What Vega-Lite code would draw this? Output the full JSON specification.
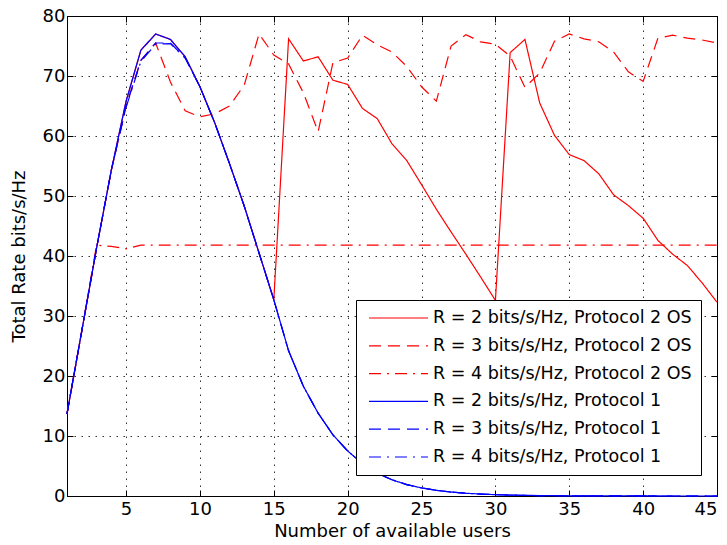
{
 "$schema": "https://vega.github.io/schema/vega-lite/v6.json",
 "width": 650, "height": 480,
 "autosize": {"type": "none"},
 "padding": {"left": 67, "top": 16, "right": 10, "bottom": 49},
 "background": "white",
 "config": {
  "font": "DejaVu Sans",
  "view": {"stroke": "#000", "strokeWidth": 1},
  "axis": {"labelFont": "DejaVu Sans", "labelFontSize": 18, "labelColor": "#000", "titleFont": "DejaVu Sans", "titleFontSize": 18, "titleFontWeight": "normal", "titleColor": "#000", "domainColor": "#000", "tickColor": "#000", "tickSize": -6, "tickWidth": 1, "gridColor": "#000", "gridDash": [1.5, 5.5], "gridOpacity": 0.8, "gridWidth": 1},
  "legend": {"orient": "none", "legendX": 289, "legendY": 284, "symbolType": "stroke", "symbolSize": 3481, "symbolStrokeWidth": 1.2, "clipHeight": 18, "rowPadding": 9.8, "padding": 9, "symbolOffset": 3, "labelOffset": 4, "labelFont": "DejaVu Sans", "labelFontSize": 17.5, "labelColor": "#000", "labelLimit": 400, "fillColor": "#ffffff", "strokeColor": "#000000"}
 },
 "data": {"values": [
  {"s":"R = 2 bits/s/Hz, Protocol 2 OS","n":1,"v":13.7},{"s":"R = 2 bits/s/Hz, Protocol 2 OS","n":2,"v":27.5},{"s":"R = 2 bits/s/Hz, Protocol 2 OS","n":3,"v":41.3},{"s":"R = 2 bits/s/Hz, Protocol 2 OS","n":4,"v":54.3},{"s":"R = 2 bits/s/Hz, Protocol 2 OS","n":5,"v":65.8},{"s":"R = 2 bits/s/Hz, Protocol 2 OS","n":6,"v":74.3},{"s":"R = 2 bits/s/Hz, Protocol 2 OS","n":7,"v":77.0},{"s":"R = 2 bits/s/Hz, Protocol 2 OS","n":8,"v":76.1},{"s":"R = 2 bits/s/Hz, Protocol 2 OS","n":9,"v":73.2},{"s":"R = 2 bits/s/Hz, Protocol 2 OS","n":10,"v":68.2},{"s":"R = 2 bits/s/Hz, Protocol 2 OS","n":11,"v":62.2},{"s":"R = 2 bits/s/Hz, Protocol 2 OS","n":12,"v":55.4},{"s":"R = 2 bits/s/Hz, Protocol 2 OS","n":13,"v":48.3},{"s":"R = 2 bits/s/Hz, Protocol 2 OS","n":14,"v":40.5},{"s":"R = 2 bits/s/Hz, Protocol 2 OS","n":15,"v":32.7},{"s":"R = 2 bits/s/Hz, Protocol 2 OS","n":16,"v":76.2},{"s":"R = 2 bits/s/Hz, Protocol 2 OS","n":17,"v":72.5},{"s":"R = 2 bits/s/Hz, Protocol 2 OS","n":18,"v":73.2},{"s":"R = 2 bits/s/Hz, Protocol 2 OS","n":19,"v":69.3},{"s":"R = 2 bits/s/Hz, Protocol 2 OS","n":20,"v":68.6},{"s":"R = 2 bits/s/Hz, Protocol 2 OS","n":21,"v":64.6},{"s":"R = 2 bits/s/Hz, Protocol 2 OS","n":22,"v":62.9},{"s":"R = 2 bits/s/Hz, Protocol 2 OS","n":23,"v":58.7},{"s":"R = 2 bits/s/Hz, Protocol 2 OS","n":24,"v":55.9},{"s":"R = 2 bits/s/Hz, Protocol 2 OS","n":25,"v":51.9},{"s":"R = 2 bits/s/Hz, Protocol 2 OS","n":26,"v":47.8},{"s":"R = 2 bits/s/Hz, Protocol 2 OS","n":27,"v":44.0},{"s":"R = 2 bits/s/Hz, Protocol 2 OS","n":28,"v":40.3},{"s":"R = 2 bits/s/Hz, Protocol 2 OS","n":29,"v":36.5},{"s":"R = 2 bits/s/Hz, Protocol 2 OS","n":30,"v":32.6},{"s":"R = 2 bits/s/Hz, Protocol 2 OS","n":31,"v":73.9},{"s":"R = 2 bits/s/Hz, Protocol 2 OS","n":32,"v":76.1},{"s":"R = 2 bits/s/Hz, Protocol 2 OS","n":33,"v":65.5},{"s":"R = 2 bits/s/Hz, Protocol 2 OS","n":34,"v":60.1},{"s":"R = 2 bits/s/Hz, Protocol 2 OS","n":35,"v":56.9},{"s":"R = 2 bits/s/Hz, Protocol 2 OS","n":36,"v":55.9},{"s":"R = 2 bits/s/Hz, Protocol 2 OS","n":37,"v":53.7},{"s":"R = 2 bits/s/Hz, Protocol 2 OS","n":38,"v":50.2},{"s":"R = 2 bits/s/Hz, Protocol 2 OS","n":39,"v":48.4},{"s":"R = 2 bits/s/Hz, Protocol 2 OS","n":40,"v":46.3},{"s":"R = 2 bits/s/Hz, Protocol 2 OS","n":41,"v":42.6},{"s":"R = 2 bits/s/Hz, Protocol 2 OS","n":42,"v":40.3},{"s":"R = 2 bits/s/Hz, Protocol 2 OS","n":43,"v":38.4},{"s":"R = 2 bits/s/Hz, Protocol 2 OS","n":44,"v":35.5},{"s":"R = 2 bits/s/Hz, Protocol 2 OS","n":45,"v":32.3},
  {"s":"R = 3 bits/s/Hz, Protocol 2 OS","n":1,"v":13.7},{"s":"R = 3 bits/s/Hz, Protocol 2 OS","n":2,"v":27.5},{"s":"R = 3 bits/s/Hz, Protocol 2 OS","n":3,"v":41.3},{"s":"R = 3 bits/s/Hz, Protocol 2 OS","n":4,"v":54.3},{"s":"R = 3 bits/s/Hz, Protocol 2 OS","n":5,"v":65.0},{"s":"R = 3 bits/s/Hz, Protocol 2 OS","n":6,"v":72.6},{"s":"R = 3 bits/s/Hz, Protocol 2 OS","n":7,"v":75.5},{"s":"R = 3 bits/s/Hz, Protocol 2 OS","n":8,"v":69.0},{"s":"R = 3 bits/s/Hz, Protocol 2 OS","n":9,"v":64.2},{"s":"R = 3 bits/s/Hz, Protocol 2 OS","n":10,"v":63.2},{"s":"R = 3 bits/s/Hz, Protocol 2 OS","n":11,"v":63.7},{"s":"R = 3 bits/s/Hz, Protocol 2 OS","n":12,"v":65.0},{"s":"R = 3 bits/s/Hz, Protocol 2 OS","n":13,"v":68.5},{"s":"R = 3 bits/s/Hz, Protocol 2 OS","n":14,"v":77.0},{"s":"R = 3 bits/s/Hz, Protocol 2 OS","n":15,"v":73.5},{"s":"R = 3 bits/s/Hz, Protocol 2 OS","n":16,"v":72.0},{"s":"R = 3 bits/s/Hz, Protocol 2 OS","n":17,"v":67.2},{"s":"R = 3 bits/s/Hz, Protocol 2 OS","n":18,"v":60.7},{"s":"R = 3 bits/s/Hz, Protocol 2 OS","n":19,"v":72.2},{"s":"R = 3 bits/s/Hz, Protocol 2 OS","n":20,"v":73.0},{"s":"R = 3 bits/s/Hz, Protocol 2 OS","n":21,"v":76.8},{"s":"R = 3 bits/s/Hz, Protocol 2 OS","n":22,"v":75.2},{"s":"R = 3 bits/s/Hz, Protocol 2 OS","n":23,"v":74.0},{"s":"R = 3 bits/s/Hz, Protocol 2 OS","n":24,"v":71.6},{"s":"R = 3 bits/s/Hz, Protocol 2 OS","n":25,"v":68.2},{"s":"R = 3 bits/s/Hz, Protocol 2 OS","n":26,"v":65.8},{"s":"R = 3 bits/s/Hz, Protocol 2 OS","n":27,"v":75.0},{"s":"R = 3 bits/s/Hz, Protocol 2 OS","n":28,"v":76.9},{"s":"R = 3 bits/s/Hz, Protocol 2 OS","n":29,"v":75.7},{"s":"R = 3 bits/s/Hz, Protocol 2 OS","n":30,"v":75.3},{"s":"R = 3 bits/s/Hz, Protocol 2 OS","n":31,"v":73.3},{"s":"R = 3 bits/s/Hz, Protocol 2 OS","n":32,"v":68.1},{"s":"R = 3 bits/s/Hz, Protocol 2 OS","n":33,"v":70.5},{"s":"R = 3 bits/s/Hz, Protocol 2 OS","n":34,"v":75.8},{"s":"R = 3 bits/s/Hz, Protocol 2 OS","n":35,"v":77.0},{"s":"R = 3 bits/s/Hz, Protocol 2 OS","n":36,"v":76.2},{"s":"R = 3 bits/s/Hz, Protocol 2 OS","n":37,"v":75.7},{"s":"R = 3 bits/s/Hz, Protocol 2 OS","n":38,"v":74.0},{"s":"R = 3 bits/s/Hz, Protocol 2 OS","n":39,"v":70.7},{"s":"R = 3 bits/s/Hz, Protocol 2 OS","n":40,"v":69.1},{"s":"R = 3 bits/s/Hz, Protocol 2 OS","n":41,"v":76.3},{"s":"R = 3 bits/s/Hz, Protocol 2 OS","n":42,"v":76.8},{"s":"R = 3 bits/s/Hz, Protocol 2 OS","n":43,"v":76.3},{"s":"R = 3 bits/s/Hz, Protocol 2 OS","n":44,"v":76.0},{"s":"R = 3 bits/s/Hz, Protocol 2 OS","n":45,"v":75.5},
  {"s":"R = 4 bits/s/Hz, Protocol 2 OS","n":1,"v":13.7},{"s":"R = 4 bits/s/Hz, Protocol 2 OS","n":2,"v":27.5},{"s":"R = 4 bits/s/Hz, Protocol 2 OS","n":3,"v":41.8},{"s":"R = 4 bits/s/Hz, Protocol 2 OS","n":4,"v":41.6},{"s":"R = 4 bits/s/Hz, Protocol 2 OS","n":5,"v":41.2},{"s":"R = 4 bits/s/Hz, Protocol 2 OS","n":6,"v":41.8},{"s":"R = 4 bits/s/Hz, Protocol 2 OS","n":7,"v":41.8},{"s":"R = 4 bits/s/Hz, Protocol 2 OS","n":8,"v":41.8},{"s":"R = 4 bits/s/Hz, Protocol 2 OS","n":9,"v":41.8},{"s":"R = 4 bits/s/Hz, Protocol 2 OS","n":10,"v":41.8},{"s":"R = 4 bits/s/Hz, Protocol 2 OS","n":11,"v":41.8},{"s":"R = 4 bits/s/Hz, Protocol 2 OS","n":12,"v":41.8},{"s":"R = 4 bits/s/Hz, Protocol 2 OS","n":13,"v":41.8},{"s":"R = 4 bits/s/Hz, Protocol 2 OS","n":14,"v":41.8},{"s":"R = 4 bits/s/Hz, Protocol 2 OS","n":15,"v":41.8},{"s":"R = 4 bits/s/Hz, Protocol 2 OS","n":16,"v":41.8},{"s":"R = 4 bits/s/Hz, Protocol 2 OS","n":17,"v":41.8},{"s":"R = 4 bits/s/Hz, Protocol 2 OS","n":18,"v":41.8},{"s":"R = 4 bits/s/Hz, Protocol 2 OS","n":19,"v":41.8},{"s":"R = 4 bits/s/Hz, Protocol 2 OS","n":20,"v":41.8},{"s":"R = 4 bits/s/Hz, Protocol 2 OS","n":21,"v":41.8},{"s":"R = 4 bits/s/Hz, Protocol 2 OS","n":22,"v":41.8},{"s":"R = 4 bits/s/Hz, Protocol 2 OS","n":23,"v":41.8},{"s":"R = 4 bits/s/Hz, Protocol 2 OS","n":24,"v":41.8},{"s":"R = 4 bits/s/Hz, Protocol 2 OS","n":25,"v":41.8},{"s":"R = 4 bits/s/Hz, Protocol 2 OS","n":26,"v":41.8},{"s":"R = 4 bits/s/Hz, Protocol 2 OS","n":27,"v":41.8},{"s":"R = 4 bits/s/Hz, Protocol 2 OS","n":28,"v":41.8},{"s":"R = 4 bits/s/Hz, Protocol 2 OS","n":29,"v":41.8},{"s":"R = 4 bits/s/Hz, Protocol 2 OS","n":30,"v":41.8},{"s":"R = 4 bits/s/Hz, Protocol 2 OS","n":31,"v":41.8},{"s":"R = 4 bits/s/Hz, Protocol 2 OS","n":32,"v":41.8},{"s":"R = 4 bits/s/Hz, Protocol 2 OS","n":33,"v":41.8},{"s":"R = 4 bits/s/Hz, Protocol 2 OS","n":34,"v":41.8},{"s":"R = 4 bits/s/Hz, Protocol 2 OS","n":35,"v":41.8},{"s":"R = 4 bits/s/Hz, Protocol 2 OS","n":36,"v":41.8},{"s":"R = 4 bits/s/Hz, Protocol 2 OS","n":37,"v":41.8},{"s":"R = 4 bits/s/Hz, Protocol 2 OS","n":38,"v":41.8},{"s":"R = 4 bits/s/Hz, Protocol 2 OS","n":39,"v":41.8},{"s":"R = 4 bits/s/Hz, Protocol 2 OS","n":40,"v":41.8},{"s":"R = 4 bits/s/Hz, Protocol 2 OS","n":41,"v":41.8},{"s":"R = 4 bits/s/Hz, Protocol 2 OS","n":42,"v":41.8},{"s":"R = 4 bits/s/Hz, Protocol 2 OS","n":43,"v":41.8},{"s":"R = 4 bits/s/Hz, Protocol 2 OS","n":44,"v":41.8},{"s":"R = 4 bits/s/Hz, Protocol 2 OS","n":45,"v":41.8},
  {"s":"R = 2 bits/s/Hz, Protocol 1","n":1,"v":13.7},{"s":"R = 2 bits/s/Hz, Protocol 1","n":2,"v":27.5},{"s":"R = 2 bits/s/Hz, Protocol 1","n":3,"v":41.3},{"s":"R = 2 bits/s/Hz, Protocol 1","n":4,"v":54.3},{"s":"R = 2 bits/s/Hz, Protocol 1","n":5,"v":65.8},{"s":"R = 2 bits/s/Hz, Protocol 1","n":6,"v":74.3},{"s":"R = 2 bits/s/Hz, Protocol 1","n":7,"v":77.0},{"s":"R = 2 bits/s/Hz, Protocol 1","n":8,"v":76.1},{"s":"R = 2 bits/s/Hz, Protocol 1","n":9,"v":73.2},{"s":"R = 2 bits/s/Hz, Protocol 1","n":10,"v":68.2},{"s":"R = 2 bits/s/Hz, Protocol 1","n":11,"v":62.2},{"s":"R = 2 bits/s/Hz, Protocol 1","n":12,"v":55.4},{"s":"R = 2 bits/s/Hz, Protocol 1","n":13,"v":48.3},{"s":"R = 2 bits/s/Hz, Protocol 1","n":14,"v":40.5},{"s":"R = 2 bits/s/Hz, Protocol 1","n":15,"v":32.7},{"s":"R = 2 bits/s/Hz, Protocol 1","n":16,"v":24.2},{"s":"R = 2 bits/s/Hz, Protocol 1","n":17,"v":18.3},{"s":"R = 2 bits/s/Hz, Protocol 1","n":18,"v":13.8},{"s":"R = 2 bits/s/Hz, Protocol 1","n":19,"v":10.2},{"s":"R = 2 bits/s/Hz, Protocol 1","n":20,"v":7.5},{"s":"R = 2 bits/s/Hz, Protocol 1","n":21,"v":5.4},{"s":"R = 2 bits/s/Hz, Protocol 1","n":22,"v":3.8},{"s":"R = 2 bits/s/Hz, Protocol 1","n":23,"v":2.7},{"s":"R = 2 bits/s/Hz, Protocol 1","n":24,"v":1.9},{"s":"R = 2 bits/s/Hz, Protocol 1","n":25,"v":1.35},{"s":"R = 2 bits/s/Hz, Protocol 1","n":26,"v":0.95},{"s":"R = 2 bits/s/Hz, Protocol 1","n":27,"v":0.66},{"s":"R = 2 bits/s/Hz, Protocol 1","n":28,"v":0.46},{"s":"R = 2 bits/s/Hz, Protocol 1","n":29,"v":0.32},{"s":"R = 2 bits/s/Hz, Protocol 1","n":30,"v":0.22},{"s":"R = 2 bits/s/Hz, Protocol 1","n":31,"v":0.15},{"s":"R = 2 bits/s/Hz, Protocol 1","n":32,"v":0.1},{"s":"R = 2 bits/s/Hz, Protocol 1","n":33,"v":0.07},{"s":"R = 2 bits/s/Hz, Protocol 1","n":34,"v":0.05},{"s":"R = 2 bits/s/Hz, Protocol 1","n":35,"v":0.035},{"s":"R = 2 bits/s/Hz, Protocol 1","n":36,"v":0.024},{"s":"R = 2 bits/s/Hz, Protocol 1","n":37,"v":0.017},{"s":"R = 2 bits/s/Hz, Protocol 1","n":38,"v":0.012},{"s":"R = 2 bits/s/Hz, Protocol 1","n":39,"v":0.008},{"s":"R = 2 bits/s/Hz, Protocol 1","n":40,"v":0.006},{"s":"R = 2 bits/s/Hz, Protocol 1","n":41,"v":0.004},{"s":"R = 2 bits/s/Hz, Protocol 1","n":42,"v":0.003},{"s":"R = 2 bits/s/Hz, Protocol 1","n":43,"v":0.002},{"s":"R = 2 bits/s/Hz, Protocol 1","n":44,"v":0.0014},{"s":"R = 2 bits/s/Hz, Protocol 1","n":45,"v":0.001},
  {"s":"R = 3 bits/s/Hz, Protocol 1","n":1,"v":13.7},{"s":"R = 3 bits/s/Hz, Protocol 1","n":2,"v":27.5},{"s":"R = 3 bits/s/Hz, Protocol 1","n":3,"v":41.3},{"s":"R = 3 bits/s/Hz, Protocol 1","n":4,"v":54.3},{"s":"R = 3 bits/s/Hz, Protocol 1","n":5,"v":65.0},{"s":"R = 3 bits/s/Hz, Protocol 1","n":6,"v":72.6},{"s":"R = 3 bits/s/Hz, Protocol 1","n":7,"v":75.5},{"s":"R = 3 bits/s/Hz, Protocol 1","n":8,"v":75.5},{"s":"R = 3 bits/s/Hz, Protocol 1","n":9,"v":73.0},{"s":"R = 3 bits/s/Hz, Protocol 1","n":10,"v":68.2},{"s":"R = 3 bits/s/Hz, Protocol 1","n":11,"v":62.2},{"s":"R = 3 bits/s/Hz, Protocol 1","n":12,"v":55.4},{"s":"R = 3 bits/s/Hz, Protocol 1","n":13,"v":48.3},{"s":"R = 3 bits/s/Hz, Protocol 1","n":14,"v":40.5},{"s":"R = 3 bits/s/Hz, Protocol 1","n":15,"v":32.7},{"s":"R = 3 bits/s/Hz, Protocol 1","n":16,"v":24.2},{"s":"R = 3 bits/s/Hz, Protocol 1","n":17,"v":18.3},{"s":"R = 3 bits/s/Hz, Protocol 1","n":18,"v":13.8},{"s":"R = 3 bits/s/Hz, Protocol 1","n":19,"v":10.2},{"s":"R = 3 bits/s/Hz, Protocol 1","n":20,"v":7.5},{"s":"R = 3 bits/s/Hz, Protocol 1","n":21,"v":5.4},{"s":"R = 3 bits/s/Hz, Protocol 1","n":22,"v":3.8},{"s":"R = 3 bits/s/Hz, Protocol 1","n":23,"v":2.7},{"s":"R = 3 bits/s/Hz, Protocol 1","n":24,"v":1.9},{"s":"R = 3 bits/s/Hz, Protocol 1","n":25,"v":1.35},{"s":"R = 3 bits/s/Hz, Protocol 1","n":26,"v":0.95},{"s":"R = 3 bits/s/Hz, Protocol 1","n":27,"v":0.66},{"s":"R = 3 bits/s/Hz, Protocol 1","n":28,"v":0.46},{"s":"R = 3 bits/s/Hz, Protocol 1","n":29,"v":0.32},{"s":"R = 3 bits/s/Hz, Protocol 1","n":30,"v":0.22},{"s":"R = 3 bits/s/Hz, Protocol 1","n":31,"v":0.15},{"s":"R = 3 bits/s/Hz, Protocol 1","n":32,"v":0.1},{"s":"R = 3 bits/s/Hz, Protocol 1","n":33,"v":0.07},{"s":"R = 3 bits/s/Hz, Protocol 1","n":34,"v":0.05},{"s":"R = 3 bits/s/Hz, Protocol 1","n":35,"v":0.035},{"s":"R = 3 bits/s/Hz, Protocol 1","n":36,"v":0.024},{"s":"R = 3 bits/s/Hz, Protocol 1","n":37,"v":0.017},{"s":"R = 3 bits/s/Hz, Protocol 1","n":38,"v":0.012},{"s":"R = 3 bits/s/Hz, Protocol 1","n":39,"v":0.008},{"s":"R = 3 bits/s/Hz, Protocol 1","n":40,"v":0.006},{"s":"R = 3 bits/s/Hz, Protocol 1","n":41,"v":0.004},{"s":"R = 3 bits/s/Hz, Protocol 1","n":42,"v":0.003},{"s":"R = 3 bits/s/Hz, Protocol 1","n":43,"v":0.002},{"s":"R = 3 bits/s/Hz, Protocol 1","n":44,"v":0.0014},{"s":"R = 3 bits/s/Hz, Protocol 1","n":45,"v":0.001},
  {"s":"R = 4 bits/s/Hz, Protocol 1","n":1,"v":13.7},{"s":"R = 4 bits/s/Hz, Protocol 1","n":2,"v":27.5},{"s":"R = 4 bits/s/Hz, Protocol 1","n":3,"v":41.3},{"s":"R = 4 bits/s/Hz, Protocol 1","n":4,"v":54.3},{"s":"R = 4 bits/s/Hz, Protocol 1","n":5,"v":64.8},{"s":"R = 4 bits/s/Hz, Protocol 1","n":6,"v":72.4},{"s":"R = 4 bits/s/Hz, Protocol 1","n":7,"v":75.3},{"s":"R = 4 bits/s/Hz, Protocol 1","n":8,"v":75.4},{"s":"R = 4 bits/s/Hz, Protocol 1","n":9,"v":73.0},{"s":"R = 4 bits/s/Hz, Protocol 1","n":10,"v":68.2},{"s":"R = 4 bits/s/Hz, Protocol 1","n":11,"v":62.2},{"s":"R = 4 bits/s/Hz, Protocol 1","n":12,"v":55.4},{"s":"R = 4 bits/s/Hz, Protocol 1","n":13,"v":48.3},{"s":"R = 4 bits/s/Hz, Protocol 1","n":14,"v":40.5},{"s":"R = 4 bits/s/Hz, Protocol 1","n":15,"v":32.7},{"s":"R = 4 bits/s/Hz, Protocol 1","n":16,"v":24.2},{"s":"R = 4 bits/s/Hz, Protocol 1","n":17,"v":18.3},{"s":"R = 4 bits/s/Hz, Protocol 1","n":18,"v":13.8},{"s":"R = 4 bits/s/Hz, Protocol 1","n":19,"v":10.2},{"s":"R = 4 bits/s/Hz, Protocol 1","n":20,"v":7.5},{"s":"R = 4 bits/s/Hz, Protocol 1","n":21,"v":5.4},{"s":"R = 4 bits/s/Hz, Protocol 1","n":22,"v":3.8},{"s":"R = 4 bits/s/Hz, Protocol 1","n":23,"v":2.7},{"s":"R = 4 bits/s/Hz, Protocol 1","n":24,"v":1.9},{"s":"R = 4 bits/s/Hz, Protocol 1","n":25,"v":1.35},{"s":"R = 4 bits/s/Hz, Protocol 1","n":26,"v":0.95},{"s":"R = 4 bits/s/Hz, Protocol 1","n":27,"v":0.66},{"s":"R = 4 bits/s/Hz, Protocol 1","n":28,"v":0.46},{"s":"R = 4 bits/s/Hz, Protocol 1","n":29,"v":0.32},{"s":"R = 4 bits/s/Hz, Protocol 1","n":30,"v":0.22},{"s":"R = 4 bits/s/Hz, Protocol 1","n":31,"v":0.15},{"s":"R = 4 bits/s/Hz, Protocol 1","n":32,"v":0.1},{"s":"R = 4 bits/s/Hz, Protocol 1","n":33,"v":0.07},{"s":"R = 4 bits/s/Hz, Protocol 1","n":34,"v":0.05},{"s":"R = 4 bits/s/Hz, Protocol 1","n":35,"v":0.035},{"s":"R = 4 bits/s/Hz, Protocol 1","n":36,"v":0.024},{"s":"R = 4 bits/s/Hz, Protocol 1","n":37,"v":0.017},{"s":"R = 4 bits/s/Hz, Protocol 1","n":38,"v":0.012},{"s":"R = 4 bits/s/Hz, Protocol 1","n":39,"v":0.008},{"s":"R = 4 bits/s/Hz, Protocol 1","n":40,"v":0.006},{"s":"R = 4 bits/s/Hz, Protocol 1","n":41,"v":0.004},{"s":"R = 4 bits/s/Hz, Protocol 1","n":42,"v":0.003},{"s":"R = 4 bits/s/Hz, Protocol 1","n":43,"v":0.002},{"s":"R = 4 bits/s/Hz, Protocol 1","n":44,"v":0.0014},{"s":"R = 4 bits/s/Hz, Protocol 1","n":45,"v":0.001}
 ]},
 "resolve": {"axis": {"x": "independent", "y": "independent"}},
 "layer": [
  {"transform": [{"filter": {"field": "s", "oneOf": ["R = 2 bits/s/Hz, Protocol 2 OS", "R = 3 bits/s/Hz, Protocol 2 OS", "R = 4 bits/s/Hz, Protocol 2 OS"]}}],
   "mark": {"type": "line", "strokeWidth": 1.2},
   "encoding": {
    "x": {"field": "n", "type": "quantitative", "scale": {"domain": [1, 45], "nice": false, "zero": false}, "axis": {"grid": true, "values": [5, 10, 15, 20, 25, 30, 35, 40, 45], "title": "Number of available users", "labelPadding": 10, "titlePadding": 4}},
    "y": {"field": "v", "type": "quantitative", "scale": {"domain": [0, 80], "nice": false}, "axis": {"grid": true, "values": [0, 10, 20, 30, 40, 50, 60, 70, 80], "title": "Total Rate bits/s/Hz", "labelPadding": 8, "titlePadding": 14}},
    "color": {"field": "s", "type": "nominal", "title": null,
     "scale": {"domain": ["R = 2 bits/s/Hz, Protocol 2 OS", "R = 3 bits/s/Hz, Protocol 2 OS", "R = 4 bits/s/Hz, Protocol 2 OS", "R = 2 bits/s/Hz, Protocol 1", "R = 3 bits/s/Hz, Protocol 1", "R = 4 bits/s/Hz, Protocol 1"], "range": ["#ff0000", "#ff0000", "#ff0000", "#0000ff", "#0000ff", "#0000ff"]}},
    "strokeDash": {"field": "s", "type": "nominal", "title": null,
     "scale": {"domain": ["R = 2 bits/s/Hz, Protocol 2 OS", "R = 3 bits/s/Hz, Protocol 2 OS", "R = 4 bits/s/Hz, Protocol 2 OS", "R = 2 bits/s/Hz, Protocol 1", "R = 3 bits/s/Hz, Protocol 1", "R = 4 bits/s/Hz, Protocol 1"], "range": [[1, 0], [12, 7], [12, 6, 2, 6], [1, 0], [12, 7], [12, 6, 2, 6]]}}
   }},
  {"transform": [{"filter": {"field": "s", "oneOf": ["R = 2 bits/s/Hz, Protocol 1", "R = 3 bits/s/Hz, Protocol 1", "R = 4 bits/s/Hz, Protocol 1"]}}],
   "mark": {"type": "line", "strokeWidth": 1.2},
   "encoding": {
    "x": {"field": "n", "type": "quantitative", "axis": null},
    "y": {"field": "v", "type": "quantitative", "axis": null},
    "color": {"field": "s", "type": "nominal", "title": null},
    "strokeDash": {"field": "s", "type": "nominal", "title": null}
   }},
  {"transform": [{"filter": {"field": "s", "equal": "R = 4 bits/s/Hz, Protocol 2 OS"}}],
   "mark": {"type": "line", "strokeOpacity": 0},
   "encoding": {
    "x": {"field": "n", "type": "quantitative", "axis": {"orient": "top", "grid": false, "labels": false, "title": null, "values": [5, 10, 15, 20, 25, 30, 35, 40, 45]}},
    "y": {"field": "v", "type": "quantitative", "axis": {"orient": "right", "grid": false, "labels": false, "title": null, "values": [0, 10, 20, 30, 40, 50, 60, 70, 80]}}
   }}
 ]
}
